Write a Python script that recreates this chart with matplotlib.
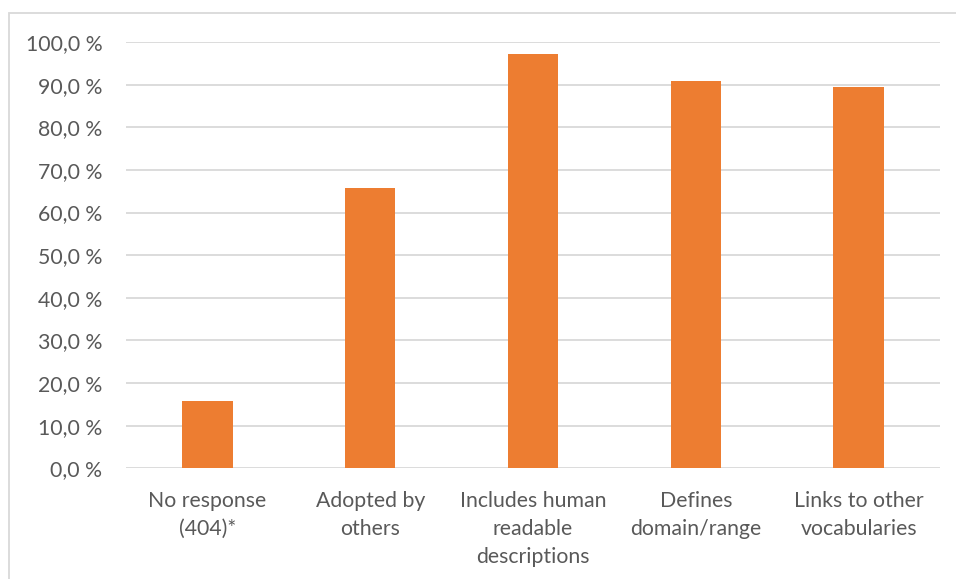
import matplotlib
matplotlib.use("Agg")
import matplotlib.pyplot as plt
from matplotlib.patches import Rectangle
from matplotlib.ticker import FuncFormatter

categories = ["No response\n(404)*", "Adopted by\nothers", "Includes human\nreadable\ndescriptions",
              "Defines\ndomain/range", "Links to other\nvocabularies"]
values = [15.8, 65.7, 97.2, 90.9, 89.4]
yticks = [0, 10, 20, 30, 40, 50, 60, 70, 80, 90, 100]

plt.rcParams['font.family'] = ['Lato', 'DejaVu Sans']
text_color = "#595959"

fig = plt.figure(figsize=(9.56, 5.79), dpi=100)
ax = fig.add_axes([126/956, 1 - 468.3/579, (940-126)/956, (468.3-42)/579])

x = list(range(len(categories)))
ax.bar(x, values, width=0.31, color="#ED7D31", zorder=3)
ax.set_xlim(-0.5, len(categories) - 0.5)
ax.set_ylim(0, 100)
ax.set_yticks(yticks)
ax.yaxis.set_major_formatter(FuncFormatter(lambda v, p: f"{v:.1f} %".replace(".", ",")))
ax.set_xticks(x)
ax.set_xticklabels(categories, linespacing=1.5)
ax.grid(axis="y", color="#D9D9D9", linewidth=1.3, zorder=0)
for s in ax.spines.values():
    s.set_visible(False)
ax.tick_params(axis="both", length=0, labelsize=15.3, colors=text_color)
ax.tick_params(axis="y", pad=17)
ax.tick_params(axis="x", pad=16)

fig.patches.append(Rectangle((9/956, -0.1), 1.2, 1 - 13/579 + 0.1, transform=fig.transFigure,
                             fill=False, edgecolor="#D9D9D9", linewidth=1.3))

fig.savefig("out.png", dpi=100)
